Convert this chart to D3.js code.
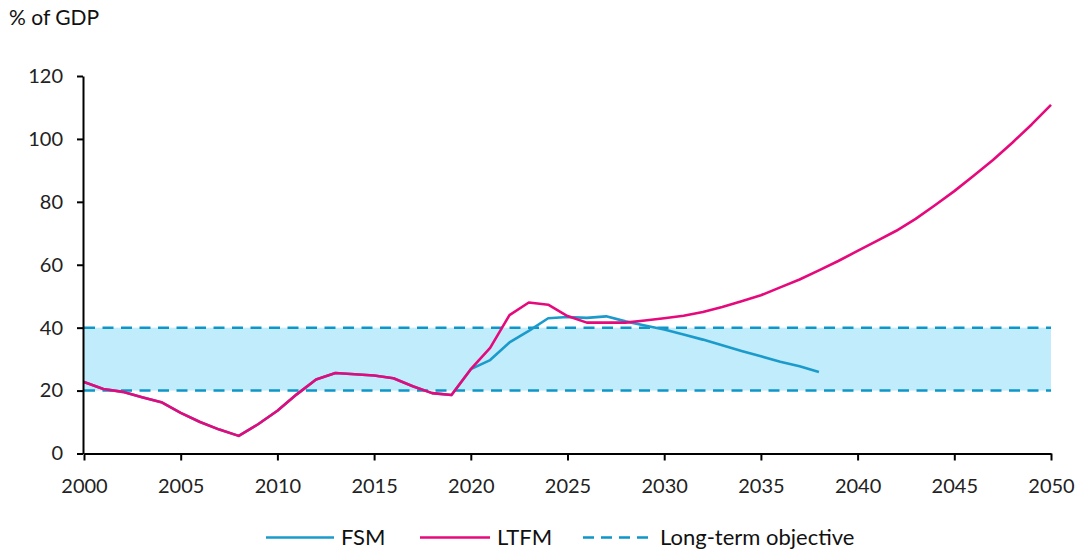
<!DOCTYPE html>
<html>
<head>
<meta charset="utf-8">
<script src="https://cdn.jsdelivr.net/npm/d3@7"></script>
<style>
  html, body { margin: 0; padding: 0; background: #fff; }
  svg { display: block; font-family: Lato, "Open Sans", sans-serif; }
</style>
</head>
<body>
<svg id="chart" width="1085" height="552"></svg>
<script>
// ---- Data ----
const years = d3.range(2000, 2051);
const ltfmValues = [
  22.7, 20.5, 19.6, 17.9, 16.3, 12.9, 10.0, 7.6, 5.6, 9.3,
  13.6, 18.8, 23.5, 25.6, 25.2, 24.8, 23.9, 21.4, 19.2, 18.6,
  26.8, 33.6, 44.0, 48.0, 47.3, 43.7, 41.6, 41.6, 41.6, 42.3,
  43.0, 43.8, 45.0, 46.6, 48.4, 50.3, 52.8, 55.3, 58.2, 61.2,
  64.4, 67.6, 70.8, 74.6, 78.9, 83.4, 88.3, 93.3, 98.8, 104.6, 110.8
];
const fsmYears = d3.range(2000, 2039);
const fsmValues = [
  22.7, 20.5, 19.6, 17.9, 16.3, 12.9, 10.0, 7.6, 5.6, 9.3,
  13.6, 18.8, 23.5, 25.6, 25.2, 24.8, 23.9, 21.4, 19.2, 18.6,
  26.8, 29.7, 35.3, 39.0, 43.0, 43.4, 43.1, 43.6, 42.0, 40.7,
  39.4, 37.8, 36.2, 34.4, 32.6, 30.9, 29.2, 27.7, 25.9
];
const objectiveLow = 20;
const objectiveHigh = 40;
const yTicks = [0, 20, 40, 60, 80, 100, 120];
const xTicks = [2000, 2005, 2010, 2015, 2020, 2025, 2030, 2035, 2040, 2045, 2050];
const seriesNames = ["FSM", "LTFM", "Long-term objective"];
const yAxisTitle = "% of GDP";

// ---- Styles ----
const blue = "#1A9BCB";
const dashBlue = "#0E96C8";
const pink = "#E6097C";
const band = "#C1ECFC";
const tickFont = 20;

const svg = d3.select("#chart");
const x = d3.scaleLinear().domain([2000, 2050]).range([84, 1051]);
const y = d3.scaleLinear().domain([0, 120]).range([453.5, 76]);

// band
svg.append("rect")
  .attr("x", x(2000)).attr("width", x(2050) - x(2000))
  .attr("y", y(objectiveHigh)).attr("height", y(objectiveLow) - y(objectiveHigh))
  .attr("fill", band);

// dashed objective lines
[objectiveLow, objectiveHigh].forEach(v => {
  svg.append("line")
    .attr("x1", x(2000)).attr("x2", x(2050))
    .attr("y1", y(v)).attr("y2", y(v))
    .attr("stroke", dashBlue).attr("stroke-width", 2.5)
    .attr("stroke-dasharray", "11,7.5");
});

const line = d3.line().x(d => x(d[0])).y(d => y(d[1]));

svg.append("path")
  .datum(fsmYears.map((yr, i) => [yr, fsmValues[i]]))
  .attr("d", line).attr("fill", "none")
  .attr("stroke", blue).attr("stroke-width", 2.6).attr("stroke-linejoin", "round");

svg.append("path")
  .datum(years.map((yr, i) => [yr, ltfmValues[i]]))
  .attr("d", line).attr("fill", "none")
  .attr("stroke", pink).attr("stroke-width", 2.6).attr("stroke-linejoin", "round");

// axes
const yAxis = svg.append("g").attr("transform", `translate(${x(2000) - 1},0)`)
  .call(d3.axisLeft(y).tickValues(yTicks).tickSize(6).tickSizeOuter(0).tickPadding(14));
const xAxis = svg.append("g").attr("transform", `translate(0,${y(0)})`)
  .call(d3.axisBottom(x).tickValues(xTicks).tickFormat(d3.format("d")).tickSize(7).tickSizeOuter(0));

[yAxis, xAxis].forEach(g => {
  g.selectAll("path, line").attr("stroke", "#000").attr("stroke-width", 2);
  g.selectAll("text").attr("font-size", tickFont).attr("fill", "#222")
    .attr("font-family", "Lato, 'Open Sans', sans-serif");
});
xAxis.selectAll("text").attr("y", 39.5).attr("dy", 0);

// y title
svg.append("text").attr("x", 9).attr("y", 25)
  .attr("font-size", 21).attr("fill", "#111").text(yAxisTitle);

// legend
const ly = 537.5;
const legend = [
  { name: seriesNames[0], color: blue, dash: null, x1: 266, x2: 334 },
  { name: seriesNames[1], color: pink, dash: null, x1: 420, x2: 490 },
  { name: seriesNames[2], color: dashBlue, dash: "11,7", x1: 583, x2: 648 }
];
legend.forEach(l => {
  svg.append("line").attr("x1", l.x1).attr("x2", l.x2).attr("y1", ly).attr("y2", ly)
    .attr("stroke", l.color).attr("stroke-width", 2.6)
    .attr("stroke-dasharray", l.dash);
  svg.append("text").attr("x", l.x2 + (l.dash ? 12 : 7)).attr("y", 545)
    .attr("font-size", 22).attr("fill", "#111").text(l.name);
});
</script>
</body>
</html>
